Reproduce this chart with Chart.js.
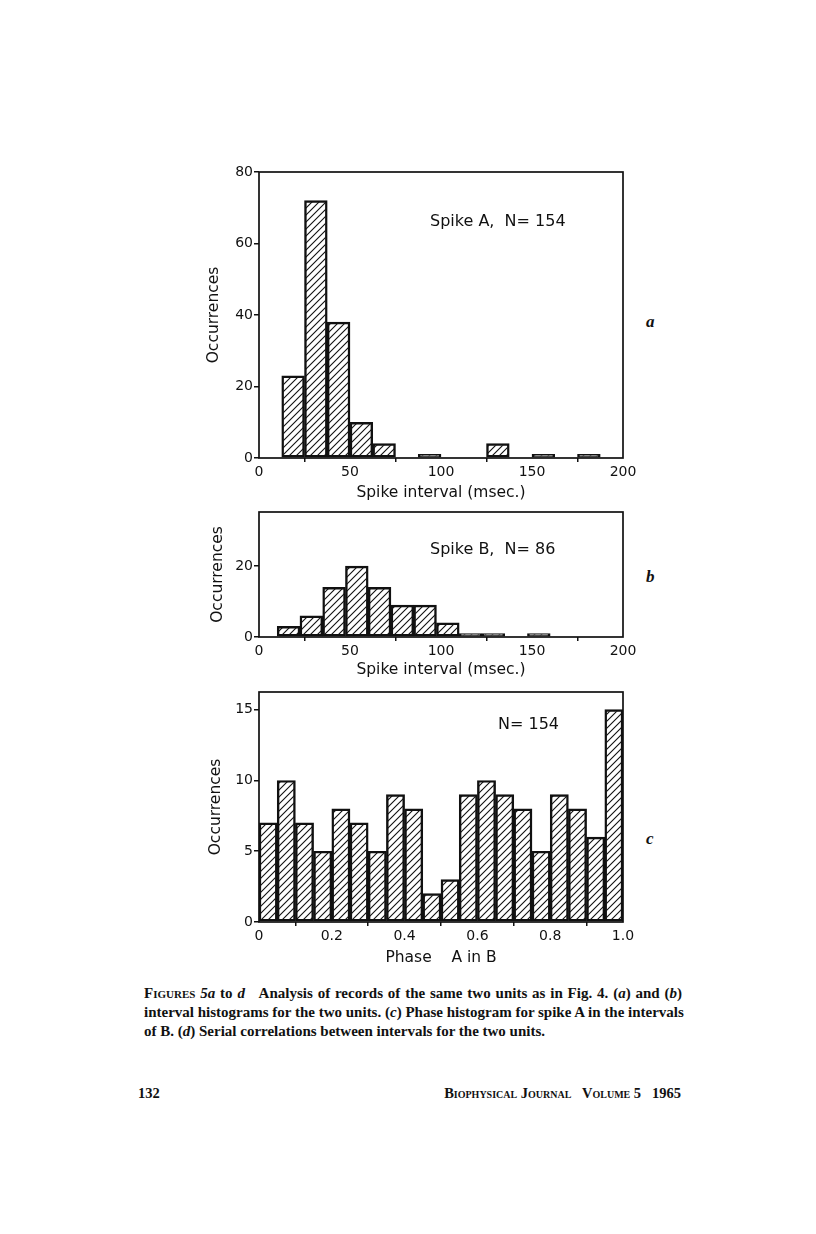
<!DOCTYPE html>
<html>
<head>
<meta charset="utf-8">
<script src="https://cdn.jsdelivr.net/npm/chart.js@4.4.1/dist/chart.umd.min.js"></script>
<style>
  body { margin: 0; background: #fff; width: 816px; height: 1234px; position: relative; overflow: hidden; }
  .panel { position: absolute; }
  .lbl { position: absolute; font-family: "Liberation Serif", serif; font-style: italic; font-weight: bold; font-size: 17px; color: #111; }
  #caption { position: absolute; left: 144px; top: 984px; width: 538px; font-family: "Liberation Serif", serif; font-weight: bold; font-size: 15px; line-height: 19px; color: #111; }
  #caption div { white-space: nowrap; }
  #caption .j { text-align: justify; text-align-last: justify; }
  .sc { font-variant: small-caps; }
  #footer { position: absolute; top: 1085px; left: 138px; width: 543px; font-family: "Liberation Serif", serif; font-weight: bold; font-size: 14.5px; color: #111; }
</style>
</head>
<body>
<div class="panel" id="pa" style="left:200px; top:160px; width:440px; height:346px;"><canvas id="chartA"></canvas></div>
<div class="panel" id="pb" style="left:200px; top:500px; width:440px; height:183px;"><canvas id="chartB"></canvas></div>
<div class="panel" id="pc" style="left:200px; top:680px; width:440px; height:291px;"><canvas id="chartC"></canvas></div>

<div class="lbl" style="left:646px; top:312px;">a</div>
<div class="lbl" style="left:646px; top:567px;">b</div>
<div class="lbl" style="left:646px; top:829px;">c</div>

<div id="caption">
  <div class="j"><span class="sc">Figures</span> <i>5a</i> to <i>d</i>&nbsp;&nbsp; Analysis of records of the same two units as in Fig. 4. (<i>a</i>) and (<i>b</i>)</div>
  <div class="j">interval histograms for the two units. (<i>c</i>) Phase histogram for spike A in the intervals</div>
  <div>of B. (<i>d</i>) Serial correlations between intervals for the two units.</div>
</div>

<div id="footer"><span>132</span><span class="sc" style="position:absolute; right:0; top:0;">Biophysical Journal&nbsp;&nbsp; Volume 5&nbsp;&nbsp; 1965</span></div>

<script>
// Spike A intervalos: bins de 12.5 ms desde 0
const binsA = [6.25, 18.75, 31.25, 43.75, 56.25, 68.75, 81.25, 93.75, 106.25, 118.75, 131.25, 143.75, 156.25, 168.75, 181.25, 193.75];
const valoresA = [null, 23, 72, 38, 10, 4, null, 1, null, null, 4, null, 1, null, 1, null];
const ticksXA = [0, 50, 100, 150, 200];
const ticksYA = [0, 20, 40, 60, 80];

// Spike B intervalos: bins de 12.5 ms desde 10
const binsB = [16.25, 28.75, 41.25, 53.75, 66.25, 78.75, 91.25, 103.75, 116.25, 128.75, 141.25, 153.75];
const valoresB = [3, 6, 14, 20, 14, 9, 9, 4, 1, 1, null, 1];
const ticksXB = [0, 50, 100, 150, 200];
const ticksYB = [0, 20];

// Fase A en B: 20 bins de 0.05
const binsC = [0.025, 0.075, 0.125, 0.175, 0.225, 0.275, 0.325, 0.375, 0.425, 0.475, 0.525, 0.575, 0.625, 0.675, 0.725, 0.775, 0.825, 0.875, 0.925, 0.975];
const valoresC = [7, 10, 7, 5, 8, 7, 5, 9, 8, 2, 3, 9, 10, 9, 8, 5, 9, 8, 6, 15];
const ticksXC = [0, 0.2, 0.4, 0.6, 0.8, 1.0];
const etiquetasXC = ['0', '0.2', '0.4', '0.6', '0.8', '1.0'];
const ticksYC = [0, 5, 10, 15];

const FUENTE = '"DejaVu Sans", "Liberation Sans", sans-serif';
const NEGRO = '#111';

function crearRayado() {
    const c = document.createElement('canvas');
    c.width = 7; c.height = 7;
    const g = c.getContext('2d');
    g.strokeStyle = NEGRO;
    g.lineWidth = 1.1;
    g.beginPath();
    g.moveTo(0, 7); g.lineTo(7, 0);
    g.moveTo(-1, 1); g.lineTo(1, -1);
    g.moveTo(6, 8); g.lineTo(8, 6);
    g.stroke();
    return g.createPattern(c, 'repeat');
}
const rayado = crearRayado();

// marco completo alrededor del area del grafico + anotacion
const marco = {
    id: 'marco',
    afterDraw(chart, args, opts) {
        const a = chart.chartArea, ctx = chart.ctx;
        ctx.save();
        ctx.strokeStyle = NEGRO;
        ctx.lineWidth = 1.7;
        ctx.strokeRect(a.left, a.top, a.right - a.left, a.bottom - a.top);
        ctx.fillStyle = NEGRO;
        ctx.font = '16px ' + FUENTE;
        ctx.textBaseline = 'middle';
        ctx.fillText(opts.texto, a.left + opts.x, a.top + opts.y);
        ctx.restore();
    }
};

function crearHistograma(id, bins, valores, cfg) {
    const ctx = document.getElementById(id).getContext('2d');
    return new Chart(ctx, {
        type: 'bar',
        data: {
            datasets: [{
                data: bins.map((x, i) => ({ x: x, y: valores[i] })),
                backgroundColor: rayado,
                borderColor: NEGRO,
                borderWidth: 1.8,
                borderSkipped: false,
                barPercentage: 1,
                categoryPercentage: 1
            }]
        },
        options: {
            responsive: true,
            maintainAspectRatio: false,
            animation: false,
            layout: { padding: { left: 0, right: 17, top: 12, bottom: 0 } },
            plugins: {
                legend: { display: false },
                tooltip: { enabled: false },
                marco: { texto: cfg.texto, x: cfg.tx, y: cfg.ty }
            },
            scales: {
                x: {
                    type: 'linear',
                    offset: false,
                    min: cfg.xmin, max: cfg.xmax,
                    afterBuildTicks: s => { s.ticks = cfg.ticksX.map(v => ({ value: v })); },
                    afterFit: s => { s.height = cfg.altoX; s.paddingLeft = 0; s.paddingRight = 0; },
                    ticks: {
                        color: NEGRO, padding: 2, maxRotation: 0,
                        font: { family: FUENTE, size: 14 },
                        callback: (v, i) => cfg.etiquetasX ? cfg.etiquetasX[i] : String(v)
                    },
                    grid: { drawOnChartArea: false, drawTicks: true, tickLength: 4, color: NEGRO, lineWidth: 1.5 },
                    border: { display: false },
                    title: { display: true, text: cfg.tituloX, color: NEGRO, font: { family: FUENTE, size: 15.5 }, padding: { top: 2, bottom: 4 } }
                },
                y: {
                    min: 0, max: cfg.ymax,
                    afterBuildTicks: s => { s.ticks = cfg.ticksY.map(v => ({ value: v })); },
                    afterFit: s => { s.width = 59; },
                    ticks: { color: NEGRO, padding: 1, font: { family: FUENTE, size: 14 } },
                    grid: { drawOnChartArea: false, drawTicks: true, tickLength: 5, color: NEGRO, lineWidth: 1.5 },
                    border: { display: false },
                    title: { display: true, text: 'Occurrences', color: NEGRO, font: { family: FUENTE, size: 15.5 }, padding: { top: cfg.padTitY, bottom: 4 } }
                }
            }
        },
        plugins: [marco]
    });
}

crearHistograma('chartA', binsA, valoresA, {
    xmin: 0, xmax: 200, ymax: 80, ticksX: ticksXA, ticksY: ticksYA,
    tituloX: 'Spike interval (msec.)', altoX: 48, padTitY: 5,
    texto: 'Spike A,  N= 154', tx: 171, ty: 50
});
crearHistograma('chartB', binsB, valoresB, {
    xmin: 0, xmax: 200, ymax: 35.3, ticksX: ticksXB, ticksY: ticksYB,
    tituloX: 'Spike interval (msec.)', altoX: 46, padTitY: 9,
    texto: 'Spike B,  N= 86', tx: 171, ty: 38
});
crearHistograma('chartC', binsC, valoresC, {
    xmin: 0, xmax: 1, ymax: 16.25, ticksX: ticksXC, ticksY: ticksYC, etiquetasX: etiquetasXC,
    tituloX: 'Phase    A in B', altoX: 49, padTitY: 7,
    texto: 'N= 154', tx: 239, ty: 33
});
</script>
</body>
</html>
